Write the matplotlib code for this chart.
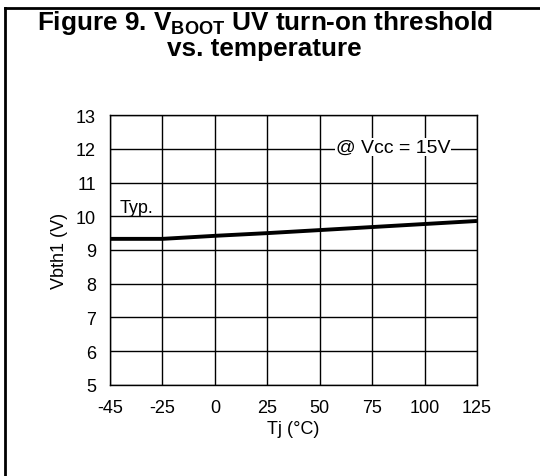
import matplotlib
matplotlib.use("Agg")
import matplotlib.pyplot as plt
from matplotlib.lines import Line2D

plt.rcParams["font.family"] = ["Liberation Sans", "DejaVu Sans"]
plt.rcParams["mathtext.fontset"] = "custom"
plt.rcParams["mathtext.rm"] = "Liberation Sans:bold"
plt.rcParams["mathtext.bf"] = "Liberation Sans:bold"

# temperature categories (equally spaced on the chart) and typical threshold
temps = ["-45", "-25", "0", "25", "50", "75", "100", "125"]
vbth1 = [9.33, 9.33, 9.42, 9.50, 9.59, 9.68, 9.77, 9.86]
y_ticks = [5, 6, 7, 8, 9, 10, 11, 12, 13]

fig = plt.figure(figsize=(5.4, 4.77), dpi=100)
ax = fig.add_axes([0.2037, 0.1908, 0.6796, 0.566])

xs = list(range(len(temps)))
ax.plot(xs, vbth1, color="black", lw=2.8, solid_capstyle="butt")

ax.set_xlim(0, len(temps) - 1)
ax.set_ylim(5, 13)
ax.set_xticks(xs)
ax.set_xticklabels(temps)
ax.set_yticks(y_ticks)
ax.grid(True, color="black", lw=1.0)
ax.tick_params(length=0, labelsize=13, pad=10)
for s in ax.spines.values():
    s.set_linewidth(1.0)

ax.set_xlabel("Tj (°C)", fontsize=13, labelpad=3)
ax.set_ylabel("Vbth1 (V)", fontsize=13, labelpad=6)

ax.text(0.18, 10.25, "Typ.", fontsize=13, ha="left", va="center")
ax.text(5.4, 12.05, "@ Vcc = 15V", fontsize=14, ha="center", va="center",
        bbox=dict(facecolor="white", edgecolor="none", pad=0.5))

fig.text(0.49, 0.952, r"Figure 9. V$_\mathregular{BOOT}$ UV turn-on threshold",
         fontsize=18.8, fontweight="bold", ha="center", va="center")
fig.text(0.49, 0.897, "vs. temperature", fontsize=18.8, fontweight="bold",
         ha="center", va="center")

# frame lines (top and left) as in the datasheet panel
fig.add_artist(Line2D([0.009, 1.0], [0.981, 0.981], color="black", lw=2,
                      transform=fig.transFigure))
fig.add_artist(Line2D([0.009, 0.009], [0.0, 0.981], color="black", lw=2,
                      transform=fig.transFigure))

fig.savefig("out.png", dpi=100)
